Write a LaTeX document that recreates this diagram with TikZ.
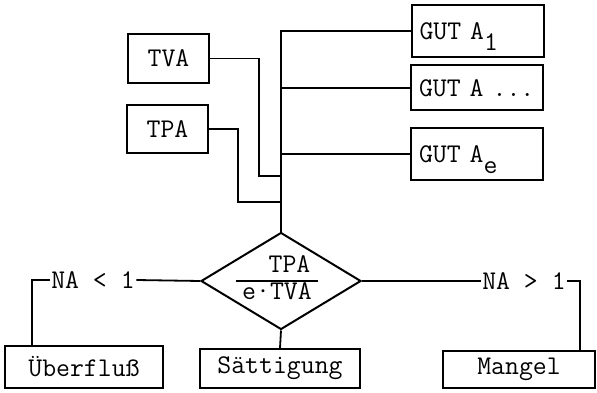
\documentclass[tikz,border=0pt]{standalone}
\usetikzlibrary{shapes.geometric}
\begin{document}
\begin{tikzpicture}[x=1pt,y=-1pt,
  box/.style={draw, line width=2pt, inner sep=0pt, font=\fontsize{27}{30}\selectfont\ttfamily},
  gut/.style={box, text width=116pt, align=left, inner xsep=8pt, minimum height=#1},
  lbl/.style={inner sep=1.5pt, font=\fontsize{27}{30}\selectfont\ttfamily},
  conn/.style={line width=1.8pt}]
\useasboundingbox (0,0) rectangle (597,393);
% boxes
\node[box, minimum width=81pt, minimum height=49pt] (TVA) at (168.5,58.5) {TVA};
\node[box, minimum width=81pt, minimum height=48pt] (TPA) at (167.5,129) {TPA};
\node[gut=52pt] (G1) at (477.5,31) {GUT A\raisebox{-11pt}[0pt][0pt]{1}};
\node[gut=45pt] (G2) at (477,88) {GUT A ...};
\node[gut=52pt] (G3) at (477,154) {GUT A\raisebox{-11pt}[0pt][0pt]{e}};
\node[draw, diamond, line width=2pt, inner sep=0pt, minimum width=160pt, minimum height=97pt] (D) at (281,281) {};
\node[lbl] (F) at (277,281) {\setlength{\arrayrulewidth}{1.5pt}\renewcommand{\arraystretch}{0.85}\begin{tabular}{@{\hspace{6pt}}c@{\hspace{6pt}}}\hspace*{25pt}TPA\\\hline e·TVA\end{tabular}};
\node[box, minimum width=158pt, minimum height=42pt] (UE) at (84,367) {Überfluß};
\node[box, minimum width=160pt, minimum height=39pt] (SA) at (280,368.5) {Sättigung};
\node[box, minimum width=152pt, minimum height=37pt] (MA) at (519,369.5) {Mangel};
\node[lbl] (NAl) at (93,280) {NA < 1};
\node[lbl] (NAr) at (524,281) {NA > 1};
% junctions
\coordinate (j1) at (281,176);
\coordinate (j2) at (281,202);
\coordinate (c1) at (32,346);
\coordinate (c2) at (580,351);
% connectors
\draw[conn] (G1.west) -- (G1.west -| D.north) -- (D.north);
\draw[conn] (G2.west) -- (G2.west -| D.north);
\draw[conn] (G3.west) -- (G3.west -| D.north);
\draw[conn] (TVA.east) -- ++(49,0) |- (j1);
\draw[conn] (TPA.east) -- ++(29,0) |- (j2);
\draw[conn] (D.west) -- (NAl.east);
\draw[conn] (NAl.west) -| (c1);
\draw[conn] (D.east) -- (NAr.west);
\draw[conn] (NAr.east) -| (c2);
\draw[conn] (D.south) -- (SA.north);
\end{tikzpicture}
\end{document}
